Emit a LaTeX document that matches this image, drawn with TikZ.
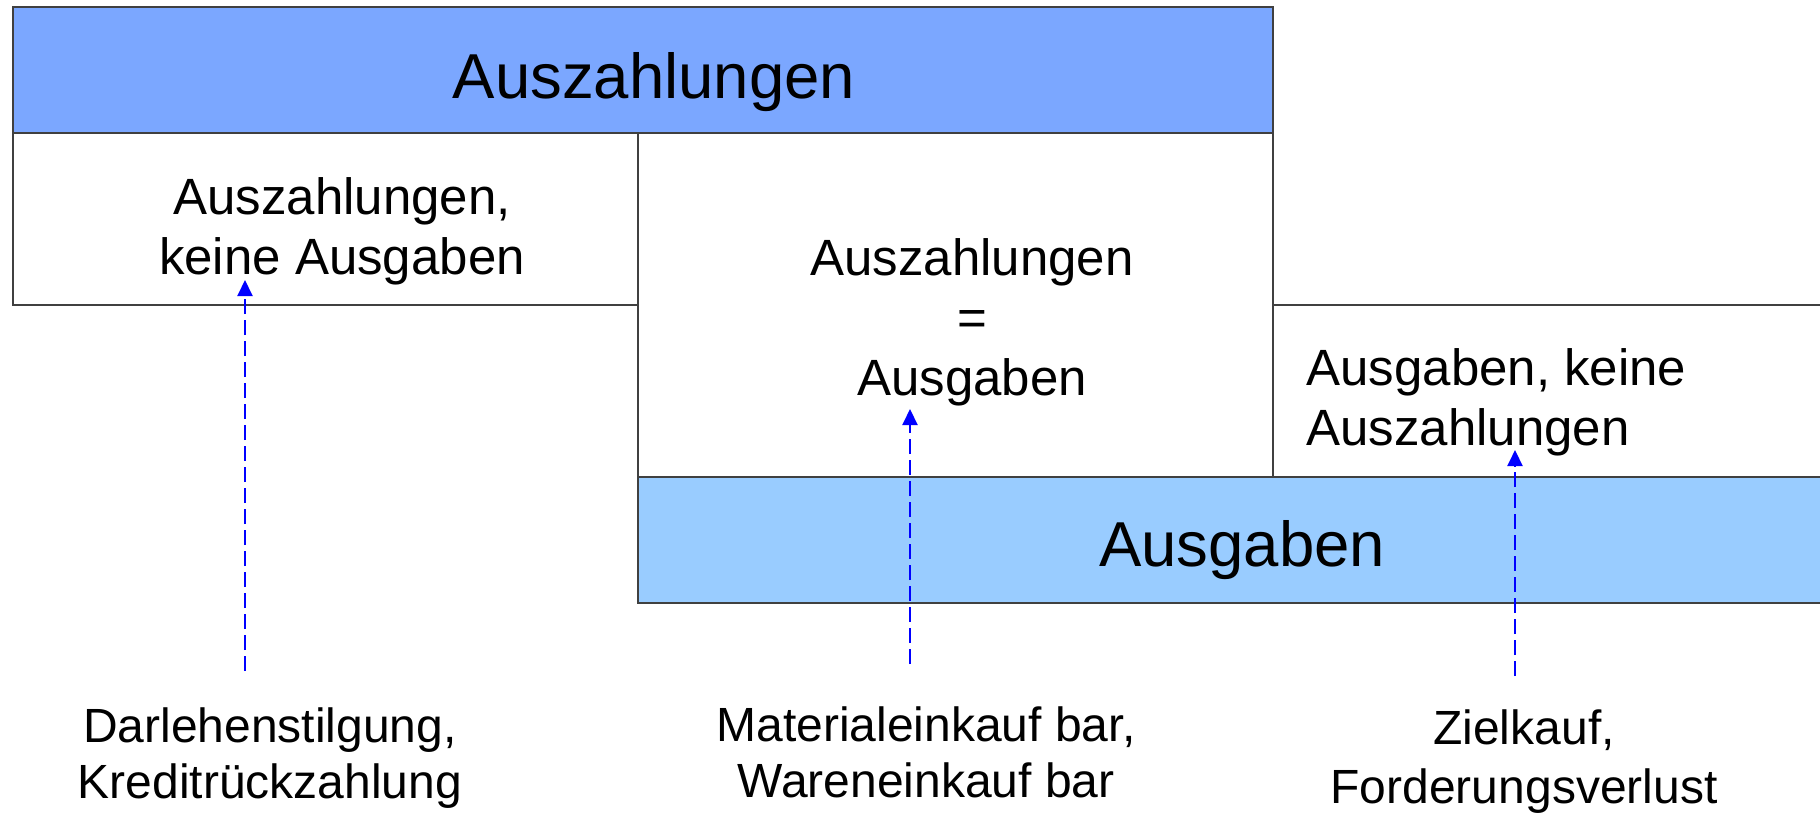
\documentclass[tikz,border=0pt]{standalone}
\usepackage{fontspec}
\setmainfont{Liberation Sans}
\usetikzlibrary{arrows.meta}
\definecolor{topblue}{HTML}{7BA7FF}
\definecolor{botblue}{HTML}{99CCFF}
\definecolor{edgegray}{HTML}{404040}
\definecolor{arrblue}{HTML}{0000FF}
\begin{document}
\begin{tikzpicture}[x=0.5pt,y=-0.5pt,
  frame/.style={draw=edgegray,line width=1.25pt},
  headtxt/.style={font=\fontsize{31.75pt}{38pt}\selectfont, inner sep=0pt, anchor=base},
  boxtxt/.style={font=\fontsize{25.5pt}{30pt}\selectfont, align=center, inner sep=0pt, anchor=base},
  labtxt/.style={font=\fontsize{24pt}{28pt}\selectfont, align=center, inner sep=0pt, anchor=base},
  flow/.style={draw=arrblue, line width=1pt, dash pattern=on 7.5pt off 3pt, -{Triangle[length=8pt,width=7.5pt]}}
]
\useasboundingbox (0,0) rectangle (1820,813);
\clip (0,0) rectangle (1820,813);
\fill[white] (0,0) rectangle (1820,813);
% boxes
\filldraw[frame, fill=topblue] (13,7) rectangle (1273,133);
\filldraw[frame, fill=white] (13,133) rectangle (638,305);
\filldraw[frame, fill=white] (638,133) rectangle (1273,477);
\filldraw[frame, fill=white] (1273,305) rectangle (1840,477);
\filldraw[frame, fill=botblue] (638,477) rectangle (1840,603);
% texts (base anchor = baseline of the last line)
\node[headtxt] (hdr) at (654,99) {Auszahlungen};
\node[boxtxt] (lbox) at (342,274) {Auszahlungen,\\keine Ausgaben};
\node[boxtxt] (mbox) at (972,395) {Auszahlungen\\=\\Ausgaben};
\node[boxtxt, align=left, anchor=base west] (rbox) at (1306,445) {Ausgaben, keine\\Auszahlungen};
\node[headtxt] (bbar) at (1242,566) {Ausgaben};
\node[labtxt] (lab1) at (270,798) {Darlehenstilgung,\\Kreditrückzahlung};
\node[labtxt] (lab2) at (926,797) {Materialeinkauf bar,\\Wareneinkauf bar};
\node[labtxt, font=\fontsize{24pt}{29.5pt}\selectfont] (lab3) at (1524,803) {Zielkauf,\\Forderungsverlust};
% arrows
\coordinate (a1s) at (245,671);
\coordinate (a1e) at (245,280);
\coordinate (a2s) at (910,664);
\coordinate (a2e) at (910,409);
\coordinate (a3s) at (1515,676);
\coordinate (a3e) at (1515,450);
\draw[flow] (a1s) -- (a1e);
\draw[flow] (a2s) -- (a2e);
\draw[flow] (a3s) -- (a3e);
\end{tikzpicture}
\end{document}
